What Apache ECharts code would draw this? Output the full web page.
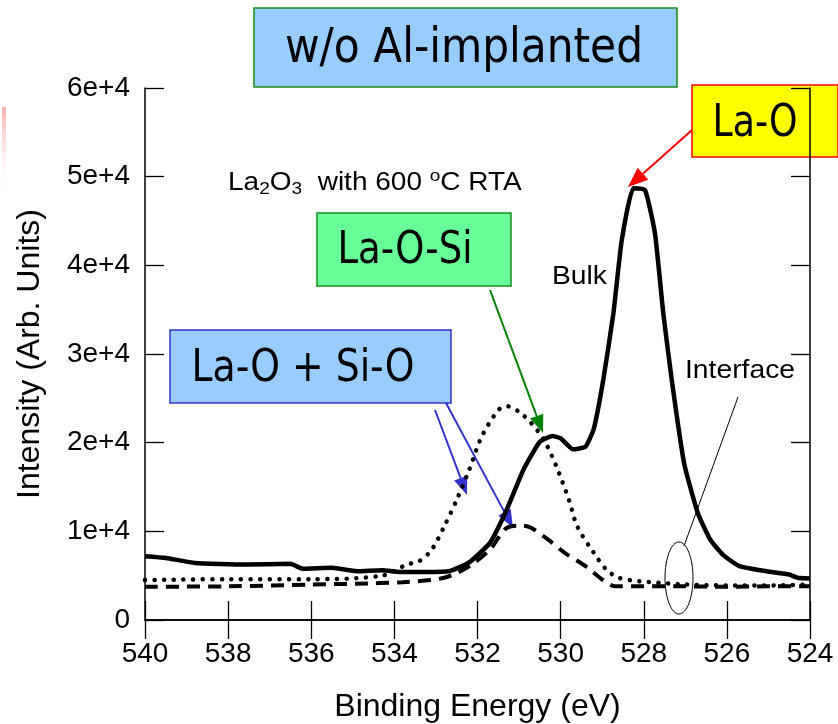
<!DOCTYPE html>
<html>
<head>
<meta charset="utf-8">
<script src="https://cdn.jsdelivr.net/npm/echarts/dist/echarts.min.js"></script>
<style>
  html, body { margin: 0; padding: 0; background: #fff; }
  #main { width: 838px; height: 724px; }
</style>
</head>
<body>
<div id="main"></div>
<script>
// O 1s spectrum, La2O3 w/o Al implant
var bulkEnergy = [540, 539.5, 538.8, 537.6, 536.5, 536.2, 535.5, 534.9, 534.3, 533.8, 532.7, 532.2, 531.7, 531.3, 530.9, 530.5, 530.2, 530.0, 529.7, 529.4, 529.2, 528.97, 528.73, 528.53, 528.25, 527.97, 527.73, 527.53, 527.33, 527.03, 526.7, 526.4, 526.1, 525.7, 525.05, 524.5, 524.3, 524];
var bulkCounts = [7200, 7000, 6440, 6250, 6330, 5770, 5880, 5500, 5620, 5400, 5500, 6500, 8700, 12400, 16900, 20100, 20750, 20500, 19250, 19550, 21600, 27200, 34600, 42800, 48700, 48500, 43600, 34600, 27200, 17700, 12060, 9060, 7380, 6070, 5500, 5130, 4760, 4680];

var dotEnergy = [540, 538, 536, 534.3, 533.7, 533.4, 533.1, 532.8, 532.5, 532.2, 531.9, 531.5, 531.3, 531.0, 530.7, 530.4, 530.1, 529.8, 529.6, 529.2, 528.9, 528.6, 528.1, 527, 526, 525, 524];
var dotCounts = [4500, 4600, 4600, 5000, 6250, 6630, 7940, 10560, 13560, 16930, 20670, 23670, 24120, 23480, 22170, 20300, 17300, 13560, 10560, 7570, 5690, 4760, 4380, 4000, 3900, 3900, 4000];

var dashEnergy = [540, 538, 536, 534.9, 533.8, 532.8, 532.2, 531.7, 531.3, 530.9, 530.7, 530.3, 529.9, 529.4, 529.0, 528.7, 527, 526, 525, 524];
var dashCounts = [3750, 3800, 4000, 4100, 4270, 4760, 6070, 7940, 10370, 10640, 10370, 9060, 7570, 6070, 4570, 3820, 3800, 3750, 3800, 3800];

var FONT = 'DejaVu Sans';
var ARIAL = 'Liberation Sans';

function pairs(xs, ys) {
  return xs.map(function (x, i) { return [x, ys[i]]; });
}

// squeeze/stretch a label so it spans the width seen in the figure
var ctx = document.createElement('canvas').getContext('2d');
function fit(text, font, w) {
  ctx.font = font;
  return w / ctx.measureText(text).width;
}

// arrow = line + triangular head
function arrow(x1, y1, x2, y2, color, len, half) {
  var a = Math.atan2(y2 - y1, x2 - x1);
  var c = Math.cos(a), s = Math.sin(a);
  var bx = x2 - len * c, by = y2 - len * s;
  return {
    type: 'group', z: 20,
    children: [
      { type: 'line', shape: { x1: x1, y1: y1, x2: bx, y2: by }, style: { stroke: color, lineWidth: 2 } },
      { type: 'polygon', shape: { points: [[x2, y2], [bx + half * s, by - half * c], [bx - half * s, by + half * c]] }, style: { fill: color } }
    ]
  };
}

function box(x, y, w, h, fill, stroke, label, size, tx, ty, tw) {
  var font = size + 'px "' + FONT + '"';
  return {
    type: 'group', z: 20,
    children: [
      { type: 'rect', shape: { x: x, y: y, width: w, height: h }, style: { fill: fill, stroke: stroke, lineWidth: 1.5 } },
      { type: 'text', x: tx, y: ty, scaleX: fit(label, font, tw),
        style: { text: label, font: font, fill: '#000', align: 'center', verticalAlign: 'middle' } }
    ]
  };
}

function note(x, y, label, size, w) {
  var font = size + 'px "' + ARIAL + '"';
  return { type: 'text', x: x, y: y, z: 20, scaleX: fit(label, font, w),
    style: { text: label, font: font, fill: '#000', verticalAlign: 'middle' } };
}

var chart = echarts.init(document.getElementById('main'));

var tickStyle = { show: true, inside: true, length: 19, lineStyle: { color: '#000', width: 1.3 } };
var lineAx = { show: true, lineStyle: { color: '#000', width: 1.5 } };

option = {
  animation: false,
  backgroundColor: '#fff',
  grid: { left: 145, right: 28, top: 88, bottom: 104, containLabel: false, outerBoundsMode: 'none' },
  xAxis: [
    {
      type: 'value', min: 524, max: 540, interval: 2, inverse: true,
      name: 'Binding Energy (eV)', nameLocation: 'middle', nameGap: 71, nameMoveOverlap: false,
      nameTextStyle: { fontFamily: ARIAL, fontSize: 32, color: '#000' },
      axisLine: lineAx, axisTick: tickStyle, splitLine: { show: false },
      axisLabel: { fontFamily: ARIAL, fontSize: 28, color: '#000', margin: 20 }
    },
    {
      type: 'value', min: 524, max: 540, interval: 2, inverse: true, position: 'top',
      axisLine: lineAx, axisTick: tickStyle, splitLine: { show: false },
      axisLabel: { show: false }
    }
  ],
  yAxis: [
    {
      type: 'value', min: 0, max: 60000, interval: 10000,
      name: 'Intensity (Arb. Units)', nameLocation: 'middle', nameGap: 99, nameMoveOverlap: false,
      nameTextStyle: { fontFamily: ARIAL, fontSize: 32, color: '#000' },
      axisLine: lineAx, axisTick: tickStyle, splitLine: { show: false },
      axisLabel: {
        fontFamily: ARIAL, fontSize: 28, color: '#000', margin: 15,
        formatter: function (v) { return v === 0 ? '0' : (v / 10000) + 'e+4'; }
      }
    },
    {
      type: 'value', min: 0, max: 60000, interval: 10000, position: 'right',
      axisLine: lineAx, axisTick: tickStyle, splitLine: { show: false },
      axisLabel: { show: false }
    }
  ],
  series: [
    {
      name: 'dashed', type: 'line', data: pairs(dashEnergy, dashCounts),
      showSymbol: false, smooth: 0.3,
      lineStyle: { color: '#000', width: 4, type: [13, 8] }
    },
    {
      name: 'dotted', type: 'line', data: pairs(dotEnergy, dotCounts),
      showSymbol: false, smooth: 0.3,
      lineStyle: { color: '#000', width: 4.5, type: [0.1, 9.5], cap: 'round' }
    },
    {
      name: 'bulk', type: 'line', data: pairs(bulkEnergy, bulkCounts),
      showSymbol: false, smooth: 0.15,
      lineStyle: { color: '#000', width: 4.5 }
    }
  ],
  graphic: [
    // faint pink strip at the left edge
    { type: 'rect', shape: { x: 2, y: 107, width: 4, height: 90 },
      style: { fill: { type: 'linear', x: 0, y: 0, x2: 0, y2: 1,
        colorStops: [{ offset: 0, color: 'rgba(255,140,140,0.7)' }, { offset: 1, color: 'rgba(255,255,255,0)' }] } } },

    box(254, 8, 423, 79, '#99ccff', '#1a8a1a', 'w/o Al-implanted', 48, 464, 50, 358),
    box(692, 85, 146, 72, '#ffff00', '#ff0000', 'La-O', 45, 755, 124, 85),
    box(317, 213, 194, 73, '#66ff99', '#1a8a1a', 'La-O-Si', 44, 405, 252, 135),
    box(170, 330, 281, 73, '#99ccff', '#3333cc', 'La-O + Si-O', 45, 303, 369, 223),

    arrow(692, 130, 628, 187, '#ff0000', 20, 8),
    arrow(490, 290, 543, 433, '#008000', 18, 7),
    arrow(435, 410, 467, 495, '#3333cc', 18, 7),
    arrow(446, 403, 513, 528, '#3333cc', 18, 7),

    { type: 'text', x: 228, y: 183, z: 20, scaleX: 1.12,
      style: {
        text: 'La{sub|2}O{sub|3}  with 600 {sup|o}C RTA',
        font: '25px "' + ARIAL + '"', fill: '#000', verticalAlign: 'middle',
        rich: {
          sub: { fontFamily: ARIAL, fontSize: 17, padding: [13, 0, 0, 0] },
          sup: { fontFamily: ARIAL, fontSize: 17, padding: [0, 0, 13, 0] }
        }
      } },
    note(552, 277, 'Bulk', 26, 55),
    note(685, 371, 'Interface', 26, 110),
    { type: 'line', z: 20, shape: { x1: 738, y1: 397, x2: 684, y2: 546 }, style: { stroke: '#000', lineWidth: 1 } },
    { type: 'ellipse', z: 20, shape: { cx: 679, cy: 578, rx: 14, ry: 36 }, style: { fill: 'none', stroke: '#000', lineWidth: 1 } }
  ]
};

chart.setOption(option);
</script>
</body>
</html>
